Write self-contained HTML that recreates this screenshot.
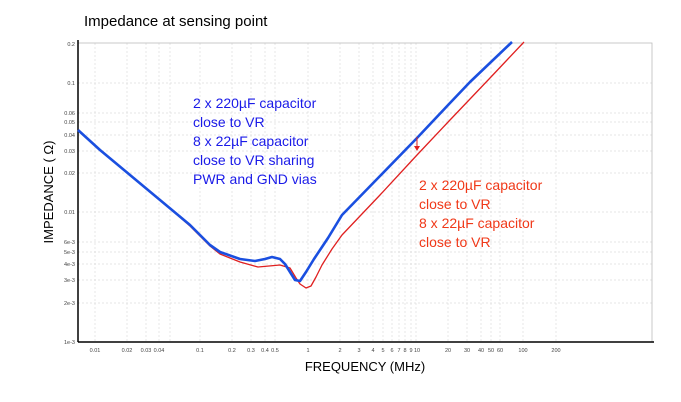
<!DOCTYPE html>
<html><head><style>body{margin:0;background:#fff}svg{display:block}</style></head><body>
<svg width="681" height="402" xmlns="http://www.w3.org/2000/svg" font-family="Liberation Sans, sans-serif">
<rect width="681" height="402" fill="#fff"/>
<text x="84" y="26" font-size="15" fill="#000">Impedance at sensing point</text>
<g stroke="#ddd" stroke-width="0.7" stroke-dasharray="2,2">
<line x1="95" y1="43" x2="95" y2="342"/><line x1="127" y1="43" x2="127" y2="342"/><line x1="146" y1="43" x2="146" y2="342"/><line x1="159" y1="43" x2="159" y2="342"/><line x1="170" y1="43" x2="170" y2="342"/>
<line x1="200" y1="43" x2="200" y2="342"/><line x1="232" y1="43" x2="232" y2="342"/><line x1="251" y1="43" x2="251" y2="342"/><line x1="265" y1="43" x2="265" y2="342"/><line x1="275" y1="43" x2="275" y2="342"/>
<line x1="308" y1="43" x2="308" y2="342"/><line x1="340" y1="43" x2="340" y2="342"/><line x1="359" y1="43" x2="359" y2="342"/><line x1="373" y1="43" x2="373" y2="342"/><line x1="383" y1="43" x2="383" y2="342"/><line x1="392" y1="43" x2="392" y2="342"/><line x1="399" y1="43" x2="399" y2="342"/><line x1="405" y1="43" x2="405" y2="342"/><line x1="411" y1="43" x2="411" y2="342"/>
<line x1="416" y1="43" x2="416" y2="342"/><line x1="448" y1="43" x2="448" y2="342"/><line x1="467" y1="43" x2="467" y2="342"/><line x1="481" y1="43" x2="481" y2="342"/><line x1="491" y1="43" x2="491" y2="342"/><line x1="500" y1="43" x2="500" y2="342"/>
<line x1="523" y1="43" x2="523" y2="342"/><line x1="556" y1="43" x2="556" y2="342"/>
<line x1="78" y1="83" x2="652" y2="83"/><line x1="78" y1="113" x2="652" y2="113"/><line x1="78" y1="122" x2="652" y2="122"/><line x1="78" y1="135" x2="652" y2="135"/><line x1="78" y1="151" x2="652" y2="151"/><line x1="78" y1="173" x2="652" y2="173"/>
<line x1="78" y1="212" x2="652" y2="212"/><line x1="78" y1="242" x2="652" y2="242"/><line x1="78" y1="252" x2="652" y2="252"/><line x1="78" y1="264" x2="652" y2="264"/><line x1="78" y1="280" x2="652" y2="280"/><line x1="78" y1="303" x2="652" y2="303"/>
</g>
<rect x="78" y="43" width="574" height="299" fill="none" stroke="#bbb" stroke-width="0.8"/>
<line x1="78" y1="342" x2="654" y2="342" stroke="#000" stroke-width="1.5"/>
<line x1="78" y1="342" x2="78" y2="40" stroke="#000" stroke-width="1.5"/>
<g font-size="5.5" fill="#444" text-anchor="end">
<text x="75" y="46">0.2</text><text x="75" y="85">0.1</text><text x="75" y="115">0.06</text><text x="75" y="124">0.05</text><text x="75" y="137">0.04</text><text x="75" y="153">0.03</text><text x="75" y="175">0.02</text><text x="75" y="214">0.01</text><text x="75" y="244">6e-3</text><text x="75" y="254">5e-3</text><text x="75" y="266">4e-3</text><text x="75" y="282">3e-3</text><text x="75" y="305">2e-3</text><text x="75" y="344">1e-3</text>
</g>
<g font-size="5.5" fill="#444" text-anchor="middle">
<text x="95" y="352">0.01</text><text x="127" y="352">0.02</text><text x="146" y="352">0.03</text><text x="159" y="352">0.04</text><text x="200" y="352">0.1</text><text x="232" y="352">0.2</text><text x="251" y="352">0.3</text><text x="265" y="352">0.4</text><text x="275" y="352">0.5</text><text x="308" y="352">1</text><text x="340" y="352">2</text><text x="359" y="352">3</text><text x="373" y="352">4</text><text x="383" y="352">5</text><text x="392" y="352">6</text><text x="399" y="352">7</text><text x="405" y="352">8</text><text x="411" y="352">9</text><text x="417" y="352">10</text><text x="448" y="352">20</text><text x="467" y="352">30</text><text x="481" y="352">40</text><text x="491" y="352">50</text><text x="500" y="352">60</text><text x="523" y="352">100</text><text x="556" y="352">200</text>
</g>
<text x="365" y="371" font-size="13" text-anchor="middle" fill="#000">FREQUENCY (MHz)</text>
<text transform="translate(53,192) rotate(-90)" font-size="13" text-anchor="middle" fill="#000">IMPEDANCE ( Ω)</text>
<polyline fill="none" stroke="#e02020" stroke-width="1.3" stroke-linejoin="round" points="78,130 100,150 130,175 160,200 190,226 210,246 220,254 240,262 258,267 280,265 290,268 296,278 300,284 306,288 311,286 316,277 322,265 332,249 342,235 380,195 417,155 450,120 490,78 524,42"/>
<polyline fill="none" stroke="#1a4fe0" stroke-width="2.6" stroke-linejoin="round" points="78,130 100,150 130,175 160,200 190,225 210,245 220,252 240,259 255,261 265,259 272,257 280,259 285,264 290,272 295,280 300,281 306,272 314,259 328,238 342,215 380,176 417,138 450,103 470,82 512,42"/>
<line x1="417" y1="137" x2="417" y2="148" stroke="#e02020" stroke-width="1"/>
<polygon points="414,146 420,146 417,151" fill="#e02020"/>
<g font-size="14" fill="#1a1ae8">
<text x="193" y="108">2 x 220µF capacitor</text><text x="193" y="127">close to VR</text><text x="193" y="146">8 x 22µF capacitor</text><text x="193" y="165">close to VR sharing</text><text x="193" y="184">PWR and GND vias</text>
</g>
<g font-size="14" fill="#f03818">
<text x="419" y="190">2 x 220µF capacitor</text><text x="419" y="209">close to VR</text><text x="419" y="228">8 x 22µF capacitor</text><text x="419" y="247">close to VR</text>
</g>
</svg>
</body></html>
